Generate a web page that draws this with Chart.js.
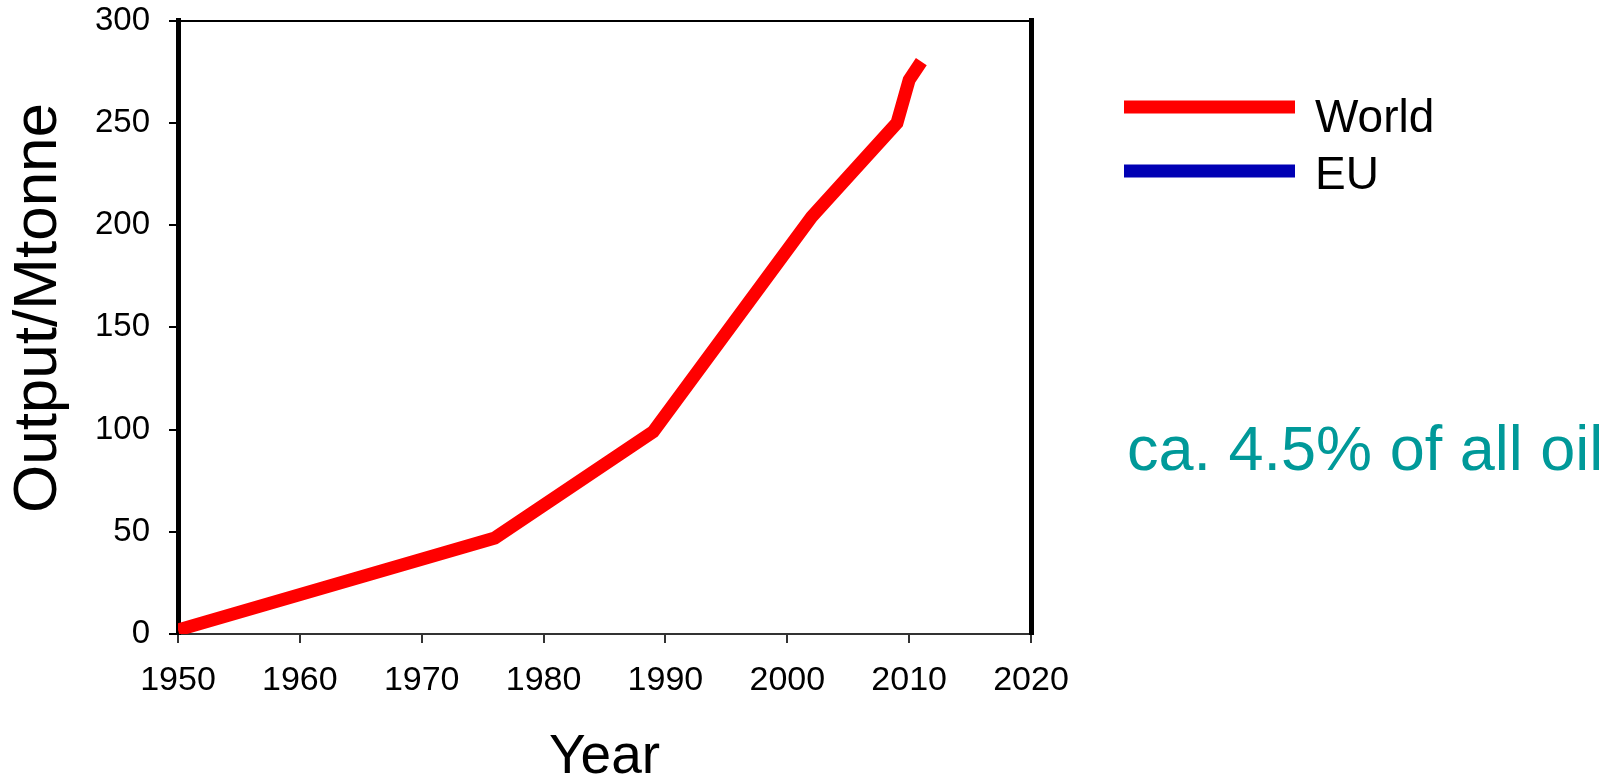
<!DOCTYPE html>
<html>
<head>
<meta charset="utf-8">
<title>Output/Mtonne</title>
<script src="https://cdn.jsdelivr.net/npm/chart.js@4/dist/chart.umd.min.js"></script>
<style>
  html, body { margin: 0; padding: 0; background: #ffffff; overflow: hidden; }
  canvas { display: block; }
</style>
</head>
<body>
<canvas id="chart" width="1620" height="776"></canvas>
<script>
// Production series (Mtonne per year)
const worldYears  = [1950, 1976, 1989, 2002, 2009, 2010, 2011];
const worldOutput = [2, 47, 99, 204, 250, 271, 280];
const euYears  = [];
const euOutput = [];

// Axis ticks
const yearTicks   = [1950, 1960, 1970, 1980, 1990, 2000, 2010, 2020];
const outputTicks = [0, 50, 100, 150, 200, 250, 300];

const seriesLabels = ['World', 'EU'];
const seriesColors = ['#ff0000', '#0000b4'];
const yTitleText = 'Output/Mtonne';
const noteText = 'ca. 4.5% of all oil';

const FONT = '"Liberation Sans", Arial, Helvetica, sans-serif';

const toPoints = (xs, ys) => xs.map((x, i) => ({ x: x, y: ys[i] }));

// Vertical axis title, legend on the right and the side note
const sideTextPlugin = {
  id: 'sideText',
  afterDraw(chart) {
    const ctx = chart.ctx;
    ctx.save();

    ctx.save();
    ctx.translate(39, 308);
    ctx.rotate(-Math.PI / 2);
    ctx.fillStyle = '#000000';
    ctx.font = '62px ' + FONT;
    ctx.textAlign = 'center';
    ctx.textBaseline = 'middle';
    ctx.fillText(yTitleText, 0, 0);
    ctx.restore();

    const lineY = [107, 171];
    const textY = [131.5, 189];
    chart.data.datasets.forEach((ds, i) => {
      ctx.strokeStyle = ds.borderColor;
      ctx.lineWidth = 13;
      ctx.lineCap = 'butt';
      ctx.beginPath();
      ctx.moveTo(1124, lineY[i]);
      ctx.lineTo(1295, lineY[i]);
      ctx.stroke();
      ctx.fillStyle = '#000000';
      ctx.font = '46px ' + FONT;
      ctx.textAlign = 'left';
      ctx.textBaseline = 'alphabetic';
      ctx.fillText(ds.label, 1315, textY[i]);
    });

    ctx.fillStyle = '#009999';
    ctx.font = '63px ' + FONT;
    ctx.textAlign = 'left';
    ctx.textBaseline = 'alphabetic';
    ctx.fillText(noteText, 1127, 470);
    ctx.restore();
  }
};

const yearMin = yearTicks[0], yearMax = yearTicks[yearTicks.length - 1];
const outMin = outputTicks[0], outMax = outputTicks[outputTicks.length - 1];

// Keep the plot frame fixed regardless of label overhang
const noOverhang = (scale) => {
  scale.paddingTop = 0;
  scale.paddingBottom = 0;
  scale.paddingLeft = 0;
  scale.paddingRight = 0;
};

new Chart(document.getElementById('chart'), {
  type: 'line',
  data: {
    datasets: [
      {
        label: seriesLabels[0],
        data: toPoints(worldYears, worldOutput),
        borderColor: seriesColors[0],
        backgroundColor: seriesColors[0],
        borderWidth: 13,
        pointRadius: 0,
        tension: 0,
        borderCapStyle: 'butt',
        borderJoinStyle: 'miter',
        xAxisID: 'x',
        yAxisID: 'y'
      },
      {
        label: seriesLabels[1],
        data: toPoints(euYears, euOutput),
        borderColor: seriesColors[1],
        backgroundColor: seriesColors[1],
        borderWidth: 13,
        pointRadius: 0,
        tension: 0,
        xAxisID: 'x',
        yAxisID: 'y'
      }
    ]
  },
  options: {
    responsive: false,
    animation: false,
    devicePixelRatio: 1,
    layout: { padding: { left: 0, right: 579, top: 0, bottom: 0 } },
    plugins: {
      legend: { display: false },
      tooltip: { enabled: false }
    },
    scales: {
      x: {
        type: 'linear',
        position: 'bottom',
        min: yearMin,
        max: yearMax,
        afterBuildTicks(scale) { scale.ticks = yearTicks.map(v => ({ value: v })); },
        afterFit(scale) { scale.height = 142; noOverhang(scale); },
        ticks: {
          color: '#000000',
          font: { family: FONT, size: 34 },
          padding: 17,
          maxRotation: 0,
          autoSkip: false,
          callback: v => String(v)
        },
        grid: { drawOnChartArea: false, tickLength: 9, color: '#333333', lineWidth: 2 },
        border: { display: true, color: '#333333', width: 2 },
        title: {
          display: true,
          text: 'Year',
          color: '#000000',
          font: { family: FONT, size: 55, lineHeight: 1 },
          padding: { top: 0, bottom: -9 }
        }
      },
      xTop: {
        type: 'linear',
        position: 'top',
        min: yearMin,
        max: yearMax,
        afterFit(scale) { scale.height = 20.7; noOverhang(scale); },
        ticks: { display: false },
        grid: { display: false },
        border: { display: true, color: '#000000', width: 2 }
      },
      y: {
        type: 'linear',
        position: 'left',
        min: outMin,
        max: outMax,
        afterBuildTicks(scale) { scale.ticks = outputTicks.map(v => ({ value: v })); },
        afterFit(scale) { scale.width = 178; noOverhang(scale); },
        ticks: {
          color: '#000000',
          font: { family: FONT, size: 33 },
          padding: 19,
          callback: v => String(v)
        },
        grid: { drawOnChartArea: false, tickLength: 9, color: '#000000', lineWidth: 2 },
        border: { display: true, color: '#000000', width: 5 },
        title: { display: false }
      },
      yRight: {
        type: 'linear',
        position: 'right',
        min: outMin,
        max: outMax,
        afterFit(scale) { scale.width = 10; noOverhang(scale); },
        ticks: { display: false },
        grid: { display: false },
        border: { display: true, color: '#000000', width: 5 }
      }
    }
  },
  plugins: [sideTextPlugin]
});
</script>
</body>
</html>
